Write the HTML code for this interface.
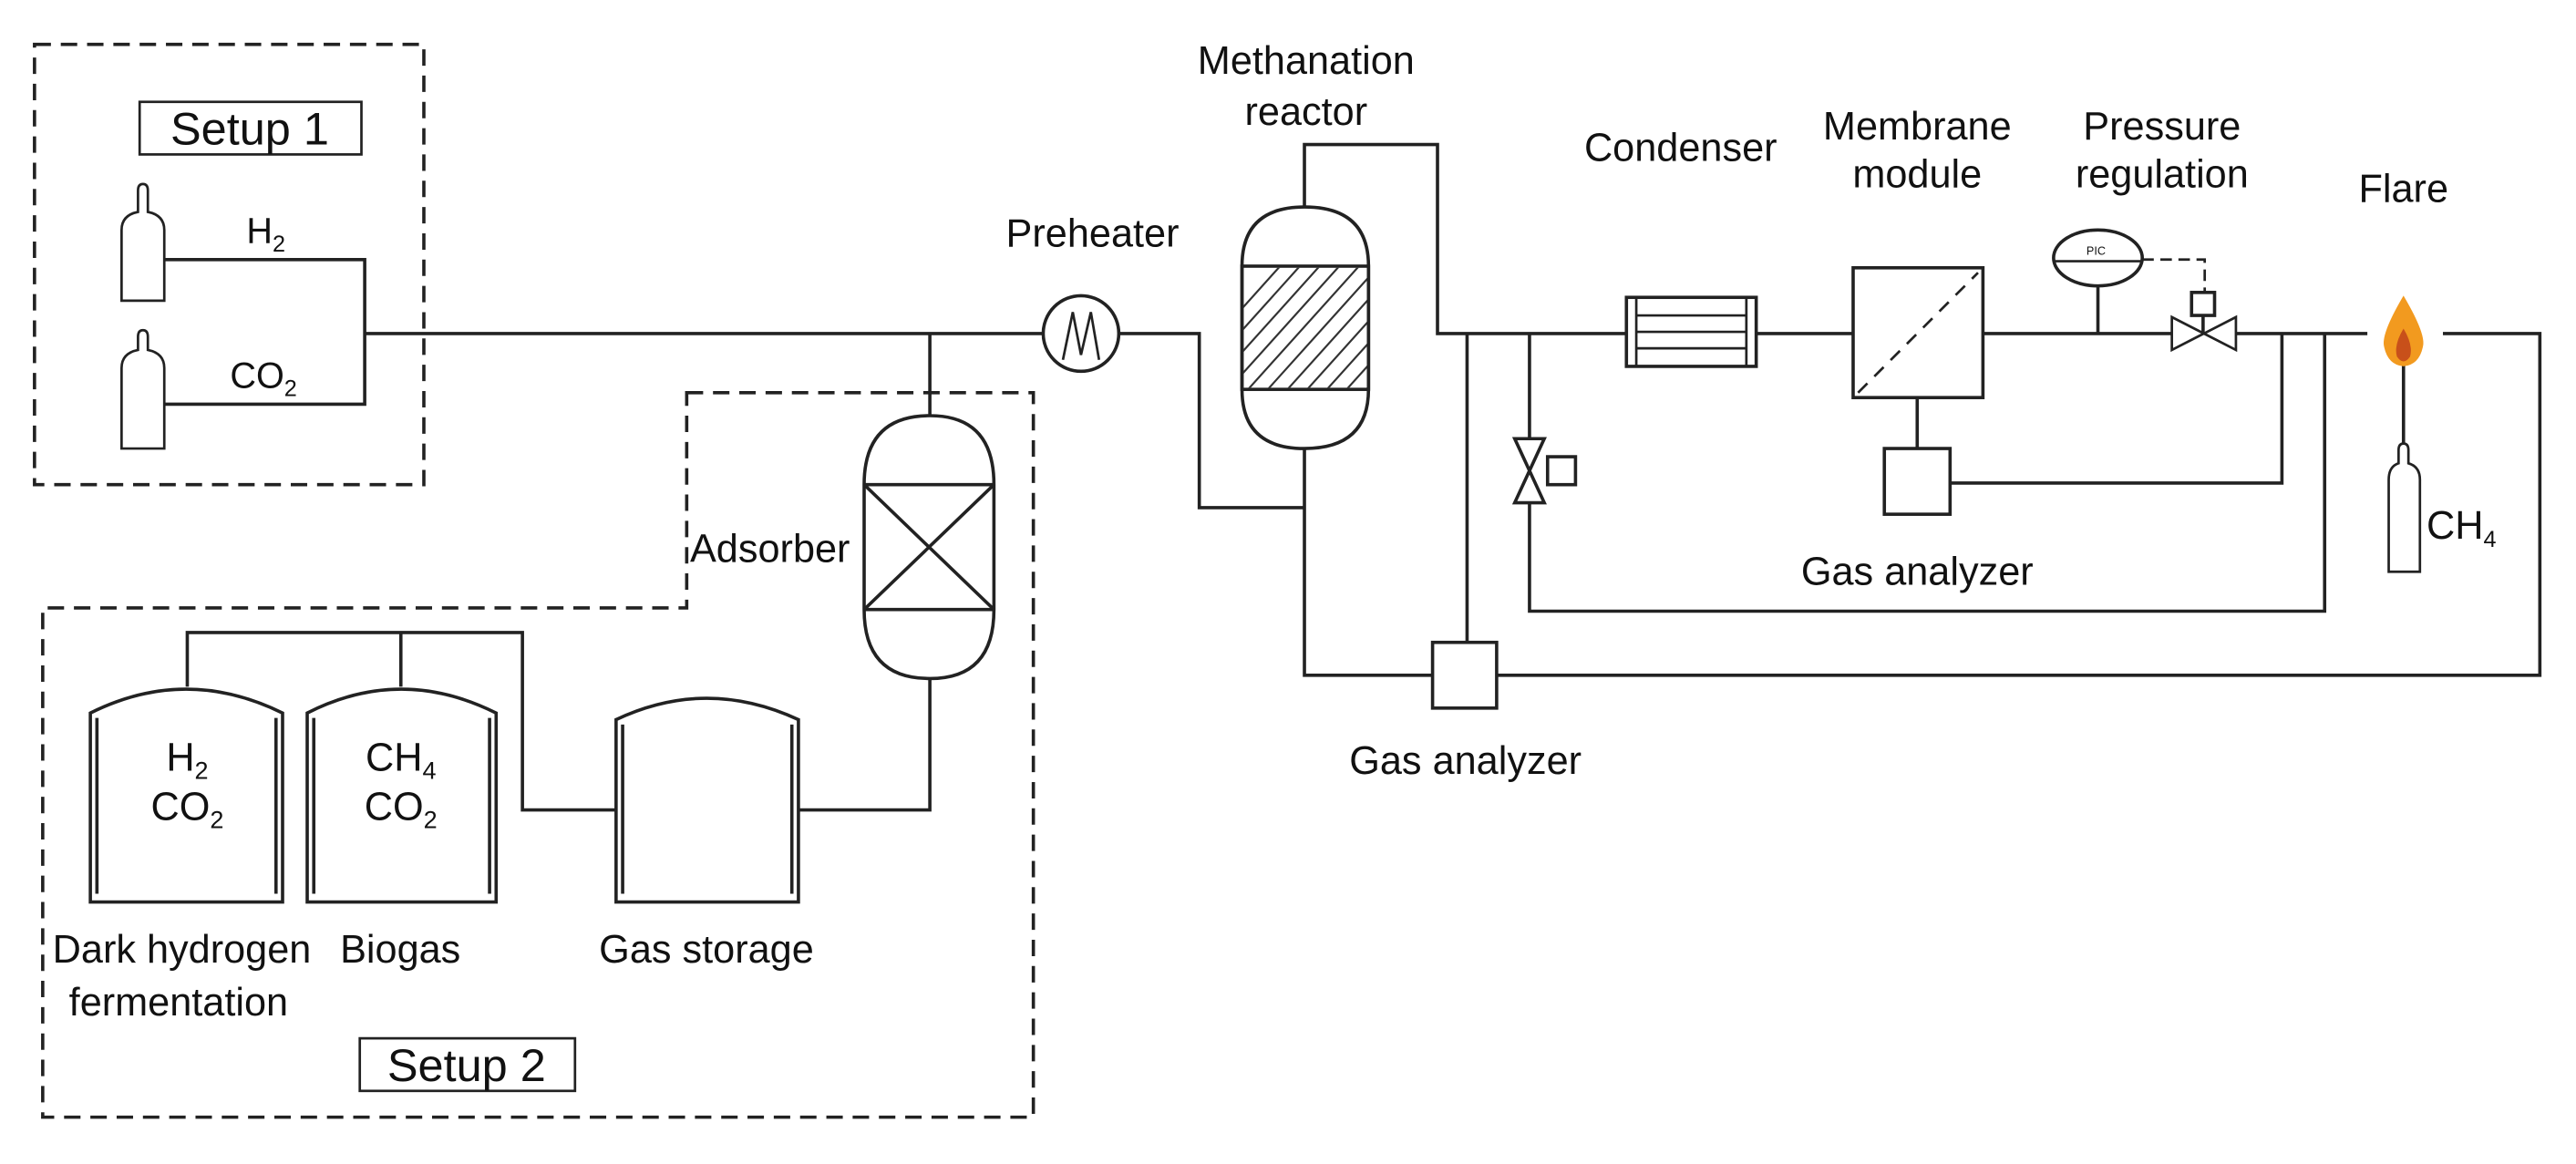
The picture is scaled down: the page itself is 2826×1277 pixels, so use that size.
<!DOCTYPE html>
<html><head><meta charset="utf-8"><style>html,body{margin:0;padding:0;background:#fff}svg{display:block}text{font-family:"Liberation Sans",sans-serif;fill:#111}</style></head>
<body>
<svg width="2826" height="1277" viewBox="0 0 1568 708.5" preserveAspectRatio="none" xmlns="http://www.w3.org/2000/svg">
<g fill="none" stroke="#222" stroke-width="2">
<rect x="21" y="27" width="237" height="268" stroke-dasharray="10,6"/>
<path d="M418 239 H629 V680 H26 V370 H418 Z" stroke-dasharray="10,6"/>
<rect x="85" y="62" width="135" height="32" stroke-width="1.5"/>
<rect x="219" y="632" width="131" height="32" stroke-width="1.5"/>
<path d="M74 183 V140 Q74 131 84 129 V116 Q84 112 87 112 Q90 112 90 116 V129 Q100 131 100 140 V183 Z" stroke-width="1.5"/>
<path d="M74 273 V224 Q74 215 84 213 V205 Q84 201 87 201 Q90 201 90 205 V213 Q100 215 100 224 V273 Z" stroke-width="1.5"/>
<path d="M100 158 H222 V246 H100 M222 203 H635"/>
<circle cx="658" cy="203" r="23"/>
<path d="M647 219 L653 190 L658 216 L664 190 L669 219" stroke-width="1.5"/>
<path d="M681 203 H730 V309 H794"/>
<path d="M756 162 Q756 126 794 126 Q833 126 833 162 V237 Q833 273 794 273 Q756 273 756 237 Z"/>
<rect x="756" y="162" width="77" height="75"/>
<path d="M794 126 V88 H875 V203 H990 M794 273 V411 H872 M911 411 H1546 V203 H1487 M893 203 V391"/>
<rect x="872" y="391" width="39" height="40"/>
<path d="M931 203 V372 H1415 V203"/>
<path d="M922 267 L940 267 L922 306 L940 306 Z" fill="#fff"/>
<rect x="942" y="278" width="17" height="17"/>
<rect x="990" y="181" width="79" height="42"/>
<path d="M996 181 V223 M1063 181 V223 M996 192 H1063 M996 202 H1063 M996 212 H1063" stroke-width="1.5"/>
<path d="M1069 203 H1128"/>
<rect x="1128" y="163" width="79" height="79"/>
<path d="M1131 239 L1204 166" stroke-dasharray="8,6" stroke-width="1.5"/>
<path d="M1167 242 V273"/>
<rect x="1147" y="273" width="40" height="40"/>
<path d="M1187 294 H1389 V203"/>
<path d="M1207 203 H1322 M1361 203 H1441"/>
<path d="M1322 193 L1322 213 L1361 193 L1361 213 Z" fill="#fff" stroke-width="1.5"/>
<rect x="1334" y="178" width="14" height="14"/>
<path d="M1341 192 V203"/>
<ellipse cx="1277" cy="157" rx="27" ry="17"/>
<path d="M1250 159 H1304" stroke-width="1.5"/>
<path d="M1277 174 V203"/>
<path d="M1304 158 H1342 V178" stroke-dasharray="7,4" stroke-width="1.5"/>
<path d="M1463 221 V270"/>
<path d="M1454 348 V292 Q1454 284 1460 282 V274 Q1460 270 1463 270 Q1466 270 1466 274 V282 Q1473 284 1473 292 V348 Z" stroke-width="1.5"/>
<path d="M566 203 V253 M526 295 Q526 253 566 253 Q605 253 605 295 V371 Q605 413 566 413 Q526 413 526 371 Z"/>
<path d="M526 295 H605 M526 371 H605 M526 295 L605 371 M605 295 L526 371"/>
<path d="M566 413 V493 H486"/>
<path d="M55 549 V434 Q113 405 172 434 V549 Z"/>
<path d="M59 437 V544 M168 437 V544"/>
<path d="M187 549 V434 Q244 405 302 434 V549 Z"/>
<path d="M191 437 V544 M298 437 V544"/>
<path d="M375 549 V438 Q430 412 486 438 V549 Z"/>
<path d="M379 441 V544 M482 441 V544"/>
<path d="M114 418 V385 H318 V493 H375 M244 385 V418"/>
</g>
<clipPath id="c"><rect x="757" y="163" width="75" height="73"/></clipPath>
<g clip-path="url(#c)" stroke="#333" stroke-width="1.2">
<path d="M700 250 L790 150 M712 250 L802 150 M724 250 L814 150 M736 250 L826 150 M748 250 L838 150 M760 250 L850 150 M772 250 L862 150 M784 250 L874 150 M796 250 L886 150 M808 250 L898 150 M820 250 L910 150"/>
</g>
<path d="M1463 180 Q1450 202 1451 210 Q1453 222 1463 223 Q1473 222 1475 210 Q1476 202 1463 180 Z" fill="#f29a1f"/>
<path d="M1463 200 Q1457 210 1459 217 Q1463 223 1467 217 Q1469 210 1463 200 Z" fill="#c8501a"/>
<text x="152" y="88" font-size="28" text-anchor="middle">Setup 1</text>
<text x="284" y="658" font-size="28" text-anchor="middle">Setup 2</text>
<text x="150" y="148" font-size="22">H<tspan font-size="14" dy="5">2</tspan></text>
<text x="140" y="236" font-size="22">CO<tspan font-size="14" dy="5">2</tspan></text>
<text x="665" y="150" font-size="24" text-anchor="middle">Preheater</text>
<text x="795" y="45" font-size="24" text-anchor="middle">Methanation</text>
<text x="795" y="76" font-size="24" text-anchor="middle">reactor</text>
<text x="1023" y="98" font-size="24" text-anchor="middle">Condenser</text>
<text x="1167" y="85" font-size="24" text-anchor="middle">Membrane</text>
<text x="1167" y="114" font-size="24" text-anchor="middle">module</text>
<text x="1316" y="85" font-size="24" text-anchor="middle">Pressure</text>
<text x="1316" y="114" font-size="24" text-anchor="middle">regulation</text>
<text x="1463" y="123" font-size="24" text-anchor="middle">Flare</text>
<text x="1477" y="328" font-size="24">CH<tspan font-size="14" dy="5">4</tspan></text>
<text x="1167" y="356" font-size="24" text-anchor="middle">Gas analyzer</text>
<text x="892" y="471" font-size="24" text-anchor="middle">Gas analyzer</text>
<text x="1270" y="155" font-size="7">PIC</text>
<text x="420" y="342" font-size="24">Adsorber</text>
<text x="114" y="469" font-size="24" text-anchor="middle">H<tspan font-size="15" dy="5">2</tspan></text>
<text x="114" y="499" font-size="24" text-anchor="middle">CO<tspan font-size="15" dy="5">2</tspan></text>
<text x="244" y="469" font-size="24" text-anchor="middle">CH<tspan font-size="15" dy="5">4</tspan></text>
<text x="244" y="499" font-size="24" text-anchor="middle">CO<tspan font-size="15" dy="5">2</tspan></text>
<text x="32" y="586" font-size="24">Dark hydrogen</text>
<text x="42" y="618" font-size="24">fermentation</text>
<text x="207" y="586" font-size="24">Biogas</text>
<text x="430" y="586" font-size="24" text-anchor="middle">Gas storage</text>
</svg>
</body></html>
